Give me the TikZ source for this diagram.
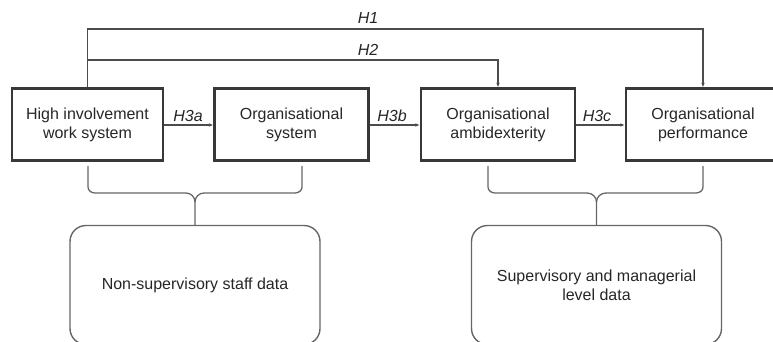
\documentclass[tikz,border=0pt]{standalone}
\usepackage{fontspec}
\setmainfont{Liberation Sans}
\usetikzlibrary{arrows.meta}
\begin{document}
\begin{tikzpicture}[x=1pt,y=-1pt,
  concept/.style={draw=black!78,line width=2.1pt,minimum width=154pt,minimum height=72pt,
    align=center,font=\fontsize{16}{19}\selectfont,text=black!85,inner sep=0pt},
  source/.style={draw=black!60,line width=1.4pt,rounded corners=16pt,minimum width=250pt,
    minimum height=119pt,align=center,font=\fontsize{16}{19}\selectfont,text=black!85},
  link/.style={draw=black!70,line width=1.3pt,-{Latex[length=4.5pt,width=3.5pt]}},
  hyp/.style={font=\fontsize{16}{19}\selectfont\itshape,text=black!85},
  brace/.style={draw=black!60,line width=1.3pt}]
\useasboundingbox (0,0) rectangle (773,342);
\clip (0,0) rectangle (773,342);

% constructs
\node[concept,minimum width=151pt] (b1) at (87.5,124.5) {High involvement\\work system};
\node[concept] (b2) at (291.5,124.5) {Organisational\\system};
\node[concept] (b3) at (498,124.5) {Organisational\\ambidexterity};
\node[concept] (b4) at (703,124.5) {Organisational\\performance};

% data sources
\node[source] (d1) at (195,285) {Non-supervisory staff data};
\node[source] (d2) at (596.5,285) {Supervisory and managerial\\level data};

% direct paths
\draw[link] (b1.north) |- (88,29) -| (b4.north);
\draw[link] (88,60) -| (b3.north);
\node[hyp] (h1) at (368,18) {H1};
\node[hyp] (h2) at (368,50) {H2};

% mediated paths
\draw[link] (b1.east |- 0,125) -- (b2.west |- 0,125);
\draw[link] (b2.east |- 0,125) -- (b3.west |- 0,125);
\draw[link] (b3.east |- 0,125) -- (b4.west |- 0,125);
\node[hyp] (h3a) at (188,116) {H3a};
\node[hyp] (h3b) at (392,116) {H3b};
\node[hyp] (h3c) at (597,116) {H3c};

% braces grouping constructs by data source
\draw[brace] (88,166) -- (88,187) to[out=-90,in=180] (95,193) -- (186,193)
  to[out=0,in=90] (195,202) -- (d1.north);
\draw[brace] (302,166) -- (302,187) to[out=-90,in=0] (295,193) -- (204,193)
  to[out=180,in=90] (195,202);
\draw[brace] (488,166) -- (488,187) to[out=-90,in=180] (495,193) -- (587,193)
  to[out=0,in=90] (596.5,202) -- (d2.north);
\draw[brace] (703,166) -- (703,187) to[out=-90,in=0] (696,193) -- (606,193)
  to[out=180,in=90] (596.5,202);
\end{tikzpicture}
\end{document}
